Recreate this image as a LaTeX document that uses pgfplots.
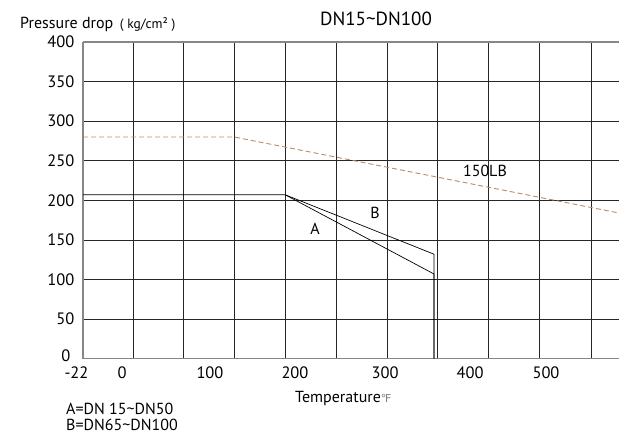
\documentclass[border=0pt]{standalone}
\usepackage{pgfplots}
\pgfplotsset{compat=1.18}
\usepackage{fontspec}
\setmainfont{PT Sans}
\newfontfamily\symfont{DejaVu Sans}
\definecolor{dashc}{RGB}{185,140,100}
\definecolor{axgray}{RGB}{135,135,135}
\begin{document}
\fontsize{16bp}{19bp}\selectfont
\begin{tikzpicture}[x=1bp,y=1bp]
\useasboundingbox (0,0) rectangle (619,434);
\begin{axis}[
  at={(83bp,75.3bp)}, anchor=south west,
  scale only axis, width=536bp, height=316.7bp,
  xmin=-45.9, xmax=584.7, ymin=0, ymax=400,
  axis x line=box, axis y line=left,
  axis line style={axgray, line width=1.2bp, -},
  /pgf/number format/assume math mode=true,
  xtick={0,103.5,203.5,309.4,409.4,498.8},
  xticklabels={0,100,200,300,400,500},
  extra x ticks={-45.9}, extra x tick labels={-22},
  extra x tick style={xticklabel style={xshift=-6.5bp}},
  minor xtick={13,72,132,192,252,312,371,431,491,552},
  ytick={50,100,...,400},
  extra y ticks={0}, extra y tick labels={0},
  extra y tick style={yticklabel style={yshift=2.5bp, xshift=-4bp}},
  minor ytick={50,100,...,350},
  xminorgrids=true, yminorgrids=true, xmajorgrids=false, ymajorgrids=false,
  major tick length=0, minor tick length=0,
  minor grid style={black!85, line width=0.8bp},
  ticklabel style={font=\fontsize{16.5bp}{19bp}\selectfont},
  yticklabel style={xshift=-3bp},
  xticklabel style={yshift=-2.5bp},
  clip=true,
]
\addplot[black, line width=0.7bp] coordinates {(-45.9,207) (192,207) (367,107) (367,0)};
\addplot[black, line width=0.7bp] coordinates {(192,207) (367,132) (367,0)};
\addplot[dashc, line width=0.9bp, dash pattern=on 5bp off 3bp] coordinates {(-45.9,280) (132,280) (584.7,184)};
\node at (axis cs:427,237) {150LB};
\node at (axis cs:297.6,184.4) {B};
\node at (axis cs:227,163.8) {A};
\end{axis}
\node[anchor=base west, inner sep=0] at (20,405.7) {Pressure drop {\fontsize{13.5bp}{15bp}\selectfont\,( kg/cm² )}};
\node[anchor=base, inner sep=0] at (376,408) {\fontsize{19bp}{22bp}\selectfont DN15\textasciitilde DN100};
\node[anchor=base west, inner sep=0] at (295,31.3) {Temperature{\symfont\fontsize{11bp}{12bp}\selectfont\color{gray}℉}};
\node[anchor=base west, inner sep=0] at (66,19.5) {A=DN 15\textasciitilde DN50};
\node[anchor=base west, inner sep=0] at (66,3) {B=DN65\textasciitilde DN100};
\end{tikzpicture}
\end{document}
